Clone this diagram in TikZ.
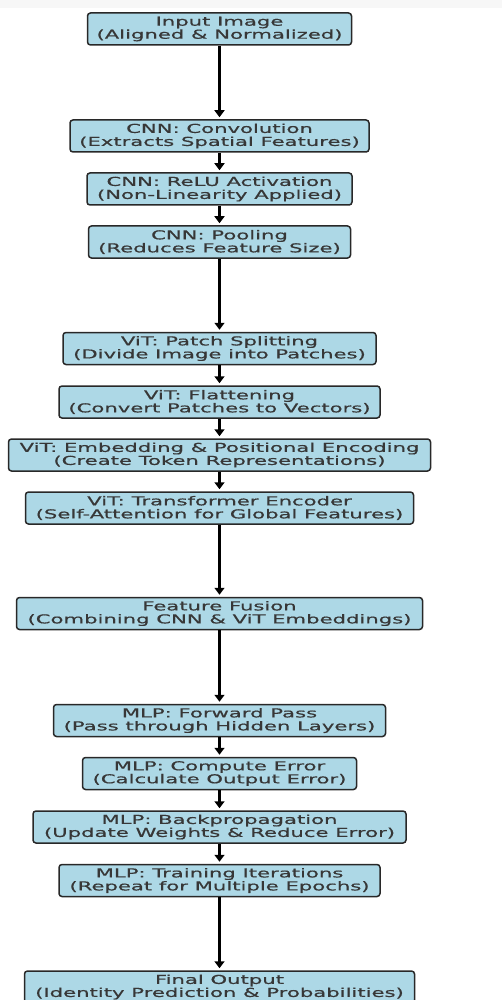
\documentclass[tikz,border=0pt]{standalone}
\usepackage{fontspec}
\newfontfamily\boxfont{DejaVu Sans}[FakeStretch=1.72,FakeBold=0.6]
\usetikzlibrary{arrows.meta}
\definecolor{boxblue}{RGB}{173,216,230}
\definecolor{boxedge}{RGB}{40,40,40}
\definecolor{boxtext}{RGB}{55,55,55}
\begin{document}
\begin{tikzpicture}[x=1pt,y=-1pt,
  stepbox/.style={draw=boxedge, line width=1.5pt, fill=boxblue, rounded corners=3pt,
    minimum height=32pt, inner sep=0pt, align=center, text=boxtext,
    font=\boxfont\fontsize{12.3}{13}\selectfont},
  flow/.style={line width=2.7pt, black, shorten >=2pt,
    -{Triangle[width=10pt,length=7pt]}}]
\useasboundingbox (0,0) rectangle (502,1000);
\clip (0,0) rectangle (502,1000);
\fill[black!3] (0,0) rectangle (502,8);
\node[stepbox, minimum width=264pt] (n1) at (219.5,29) {Input Image\\(Aligned \& Normalized)};
\node[stepbox, minimum width=299pt] (n2) at (219.5,136) {CNN: Convolution\\(Extracts Spatial Features)};
\node[stepbox, minimum width=265pt] (n3) at (219.5,189) {CNN: ReLU Activation\\(Non-Linearity Applied)};
\node[stepbox, minimum width=262pt] (n4) at (219.5,242) {CNN: Pooling\\(Reduces Feature Size)};
\node[stepbox, minimum width=313pt] (n5) at (219.5,348.5) {ViT: Patch Splitting\\(Divide Image into Patches)};
\node[stepbox, minimum width=321pt] (n6) at (219.5,402) {ViT: Flattening\\(Convert Patches to Vectors)};
\node[stepbox, minimum width=422pt] (n7) at (219.5,455) {ViT: Embedding \& Positional Encoding\\(Create Token Representations)};
\node[stepbox, minimum width=388pt] (n8) at (219.5,508) {ViT: Transformer Encoder\\(Self-Attention for Global Features)};
\node[stepbox, minimum width=406pt] (n9) at (219.5,613.5) {Feature Fusion\\(Combining CNN \& ViT Embeddings)};
\node[stepbox, minimum width=332pt] (n10) at (219.5,720.5) {MLP: Forward Pass\\(Pass through Hidden Layers)};
\node[stepbox, minimum width=274pt] (n11) at (219.5,773.5) {MLP: Compute Error\\(Calculate Output Error)};
\node[stepbox, minimum width=373pt] (n12) at (219.5,827) {MLP: Backpropagation\\(Update Weights \& Reduce Error)};
\node[stepbox, minimum width=321pt] (n13) at (219.5,880.5) {MLP: Training Iterations\\(Repeat for Multiple Epochs)};
\node[stepbox, minimum width=390pt] (n14) at (219.5,987) {Final Output\\(Identity Prediction \& Probabilities)};
\foreach \a/\b in {n1/n2,n2/n3,n3/n4,n4/n5,n5/n6,n6/n7,n7/n8,n8/n9,n9/n10,n10/n11,n11/n12,n12/n13,n13/n14}
  \draw[flow] (\a.south) -- (\b.north);
\end{tikzpicture}
\end{document}
